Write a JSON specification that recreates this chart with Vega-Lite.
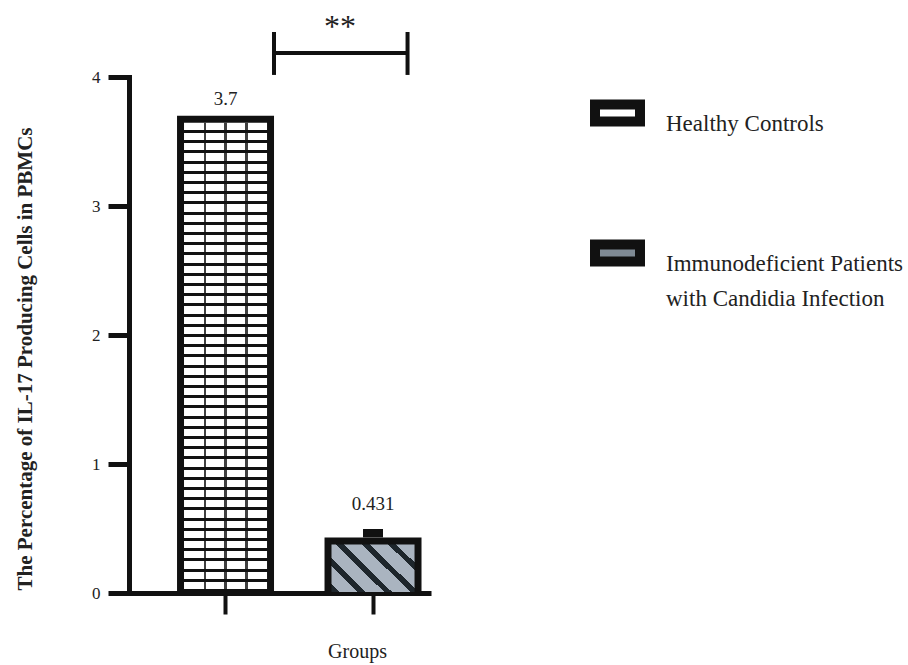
{
  "$schema": "https://vega.github.io/schema/vega-lite/v6.json",
  "width": 302,
  "height": 516,
  "autosize": {"type": "none"},
  "padding": {"left": 129, "top": 77, "right": 477, "bottom": 72},
  "background": "white",
  "config": {
    "view": {"stroke": null},
    "font": "Liberation Serif",
    "axis": {"labelFont": "Liberation Serif", "titleFont": "Liberation Serif", "labelColor": "#222", "titleColor": "#222"},
    "text": {"font": "Liberation Serif", "color": "#222"},
    "style": {"guide-label": {"lineHeight": 35}}
  },
  "datasets": {
    "bars": [
      {"group": "Healthy Controls", "value": 3.7, "upper": 3.7},
      {"group": "Immunodeficient Patients with Candidia Infection", "value": 0.431, "upper": 0.496}
    ],
    "sig": [
      {"from": "Healthy Controls", "to": "Immunodeficient Patients with Candidia Infection", "level": 4.186, "low": 4.016, "high": 4.349, "mark": "**"}
    ]
  },
  "layer": [
    {
      "data": {"name": "bars"},
      "mark": {"type": "bar", "stroke": "#111", "width": {"band": 0.5}, "yOffset": 12, "y2Offset": -12},
      "encoding": {
        "x": {"field": "group", "type": "nominal"},
        "y": {"field": "value", "type": "quantitative", "scale": {"domain": [0, 4], "nice": false}, "stack": null},
        "y2": {"datum": 0},
        "fill": {
          "field": "group", "type": "nominal",
          "scale": {"range": ["#ffffff", "#7f8a94"]},
          "legend": {
            "orient": "none", "legendX": 461, "legendY": 8.5, "title": null, "padding": 0,
            "symbolType": "M-1,-0.378H1V0.378H-1Z", "symbolSize": 2025, "symbolStrokeWidth": 10, "symbolStrokeColor": "#111",
            "labelFont": "Liberation Serif", "labelFontSize": 23, "labelColor": "#222", "labelOffset": 21, "labelLimit": 400,
            "rowPadding": 81, "labelBaseline": "top",
            "labelExpr": "datum.label === 'Immunodeficient Patients with Candidia Infection' ? ['Immunodeficient Patients', 'with Candidia Infection'] : datum.label"
          }
        }
      }
    },
    {
      "data": {"name": "bars"},
      "mark": {"type": "bar", "fill": "#111", "strokeWidth": 0},
      "encoding": {
        "x": {
          "field": "group", "type": "nominal",
          "scale": {"paddingInner": 0.3424, "paddingOuter": 0.195, "align": 0.835, "round": false},
          "axis": {"title": "Groups", "labels": false, "tickSize": 21, "tickWidth": 4, "tickColor": "#111", "domainWidth": 5, "domainColor": "#111", "titleFontSize": 20, "titleFontWeight": "normal", "titleX": 228, "titleY": 64, "titleBaseline": "alphabetic", "titleAlign": "center"}
        },
        "y": {
          "field": "value", "type": "quantitative",
          "scale": {"domain": [0, 4], "nice": false},
          "axis": {"values": [0, 1, 2, 3, 4], "format": "d", "title": "The Percentage of IL-17 Producing Cells in PBMCs", "titleFontSize": 21, "titleFontWeight": "bold", "titleX": -98, "titleY": 281.5, "titleAngle": -90, "titleAlign": "center", "titleBaseline": "alphabetic", "grid": false, "domainWidth": 5, "domainColor": "#111", "domainCap": "square", "tickWidth": 5, "tickColor": "#111", "tickSize": 21, "labelFontSize": 17, "labelPadding": 8, "labelColor": "#222"}
        }
      }
    },
    {
      "data": {"name": "bars"},
      "transform": [{"filter": "datum.group === 'Healthy Controls'"}],
      "mark": {"type": "bar", "width": {"band": 0.856}, "yOffset": 7, "y2Offset": -1, "fill": {"gradient": "linear", "x1": 0, "y1": 0, "x2": 0, "y2": 1, "stops": [
        {"offset": 0, "color": "#fff"}, {"offset": 0.0154, "color": "#fff"}, {"offset": 0.0154, "color": "#111"}, {"offset": 0.0217, "color": "#111"},
        {"offset": 0.0217, "color": "#fff"}, {"offset": 0.0372, "color": "#fff"}, {"offset": 0.0372, "color": "#111"}, {"offset": 0.0435, "color": "#111"},
        {"offset": 0.0435, "color": "#fff"}, {"offset": 0.0589, "color": "#fff"}, {"offset": 0.0589, "color": "#111"}, {"offset": 0.0652, "color": "#111"},
        {"offset": 0.0652, "color": "#fff"}, {"offset": 0.0807, "color": "#fff"}, {"offset": 0.0807, "color": "#111"}, {"offset": 0.087, "color": "#111"},
        {"offset": 0.087, "color": "#fff"}, {"offset": 0.1024, "color": "#fff"}, {"offset": 0.1024, "color": "#111"}, {"offset": 0.1087, "color": "#111"},
        {"offset": 0.1087, "color": "#fff"}, {"offset": 0.1241, "color": "#fff"}, {"offset": 0.1241, "color": "#111"}, {"offset": 0.1304, "color": "#111"},
        {"offset": 0.1304, "color": "#fff"}, {"offset": 0.1459, "color": "#fff"}, {"offset": 0.1459, "color": "#111"}, {"offset": 0.1522, "color": "#111"},
        {"offset": 0.1522, "color": "#fff"}, {"offset": 0.1676, "color": "#fff"}, {"offset": 0.1676, "color": "#111"}, {"offset": 0.1739, "color": "#111"},
        {"offset": 0.1739, "color": "#fff"}, {"offset": 0.1893, "color": "#fff"}, {"offset": 0.1893, "color": "#111"}, {"offset": 0.1957, "color": "#111"},
        {"offset": 0.1957, "color": "#fff"}, {"offset": 0.2111, "color": "#fff"}, {"offset": 0.2111, "color": "#111"}, {"offset": 0.2174, "color": "#111"},
        {"offset": 0.2174, "color": "#fff"}, {"offset": 0.2328, "color": "#fff"}, {"offset": 0.2328, "color": "#111"}, {"offset": 0.2391, "color": "#111"},
        {"offset": 0.2391, "color": "#fff"}, {"offset": 0.2546, "color": "#fff"}, {"offset": 0.2546, "color": "#111"}, {"offset": 0.2609, "color": "#111"},
        {"offset": 0.2609, "color": "#fff"}, {"offset": 0.2763, "color": "#fff"}, {"offset": 0.2763, "color": "#111"}, {"offset": 0.2826, "color": "#111"},
        {"offset": 0.2826, "color": "#fff"}, {"offset": 0.298, "color": "#fff"}, {"offset": 0.298, "color": "#111"}, {"offset": 0.3043, "color": "#111"},
        {"offset": 0.3043, "color": "#fff"}, {"offset": 0.3198, "color": "#fff"}, {"offset": 0.3198, "color": "#111"}, {"offset": 0.3261, "color": "#111"},
        {"offset": 0.3261, "color": "#fff"}, {"offset": 0.3415, "color": "#fff"}, {"offset": 0.3415, "color": "#111"}, {"offset": 0.3478, "color": "#111"},
        {"offset": 0.3478, "color": "#fff"}, {"offset": 0.3633, "color": "#fff"}, {"offset": 0.3633, "color": "#111"}, {"offset": 0.3696, "color": "#111"},
        {"offset": 0.3696, "color": "#fff"}, {"offset": 0.385, "color": "#fff"}, {"offset": 0.385, "color": "#111"}, {"offset": 0.3913, "color": "#111"},
        {"offset": 0.3913, "color": "#fff"}, {"offset": 0.4067, "color": "#fff"}, {"offset": 0.4067, "color": "#111"}, {"offset": 0.413, "color": "#111"},
        {"offset": 0.413, "color": "#fff"}, {"offset": 0.4285, "color": "#fff"}, {"offset": 0.4285, "color": "#111"}, {"offset": 0.4348, "color": "#111"},
        {"offset": 0.4348, "color": "#fff"}, {"offset": 0.4502, "color": "#fff"}, {"offset": 0.4502, "color": "#111"}, {"offset": 0.4565, "color": "#111"},
        {"offset": 0.4565, "color": "#fff"}, {"offset": 0.472, "color": "#fff"}, {"offset": 0.472, "color": "#111"}, {"offset": 0.4783, "color": "#111"},
        {"offset": 0.4783, "color": "#fff"}, {"offset": 0.4937, "color": "#fff"}, {"offset": 0.4937, "color": "#111"}, {"offset": 0.5, "color": "#111"},
        {"offset": 0.5, "color": "#fff"}, {"offset": 0.5154, "color": "#fff"}, {"offset": 0.5154, "color": "#111"}, {"offset": 0.5217, "color": "#111"},
        {"offset": 0.5217, "color": "#fff"}, {"offset": 0.5372, "color": "#fff"}, {"offset": 0.5372, "color": "#111"}, {"offset": 0.5435, "color": "#111"},
        {"offset": 0.5435, "color": "#fff"}, {"offset": 0.5589, "color": "#fff"}, {"offset": 0.5589, "color": "#111"}, {"offset": 0.5652, "color": "#111"},
        {"offset": 0.5652, "color": "#fff"}, {"offset": 0.5807, "color": "#fff"}, {"offset": 0.5807, "color": "#111"}, {"offset": 0.587, "color": "#111"},
        {"offset": 0.587, "color": "#fff"}, {"offset": 0.6024, "color": "#fff"}, {"offset": 0.6024, "color": "#111"}, {"offset": 0.6087, "color": "#111"},
        {"offset": 0.6087, "color": "#fff"}, {"offset": 0.6241, "color": "#fff"}, {"offset": 0.6241, "color": "#111"}, {"offset": 0.6304, "color": "#111"},
        {"offset": 0.6304, "color": "#fff"}, {"offset": 0.6459, "color": "#fff"}, {"offset": 0.6459, "color": "#111"}, {"offset": 0.6522, "color": "#111"},
        {"offset": 0.6522, "color": "#fff"}, {"offset": 0.6676, "color": "#fff"}, {"offset": 0.6676, "color": "#111"}, {"offset": 0.6739, "color": "#111"},
        {"offset": 0.6739, "color": "#fff"}, {"offset": 0.6893, "color": "#fff"}, {"offset": 0.6893, "color": "#111"}, {"offset": 0.6957, "color": "#111"},
        {"offset": 0.6957, "color": "#fff"}, {"offset": 0.7111, "color": "#fff"}, {"offset": 0.7111, "color": "#111"}, {"offset": 0.7174, "color": "#111"},
        {"offset": 0.7174, "color": "#fff"}, {"offset": 0.7328, "color": "#fff"}, {"offset": 0.7328, "color": "#111"}, {"offset": 0.7391, "color": "#111"},
        {"offset": 0.7391, "color": "#fff"}, {"offset": 0.7546, "color": "#fff"}, {"offset": 0.7546, "color": "#111"}, {"offset": 0.7609, "color": "#111"},
        {"offset": 0.7609, "color": "#fff"}, {"offset": 0.7763, "color": "#fff"}, {"offset": 0.7763, "color": "#111"}, {"offset": 0.7826, "color": "#111"},
        {"offset": 0.7826, "color": "#fff"}, {"offset": 0.798, "color": "#fff"}, {"offset": 0.798, "color": "#111"}, {"offset": 0.8043, "color": "#111"},
        {"offset": 0.8043, "color": "#fff"}, {"offset": 0.8198, "color": "#fff"}, {"offset": 0.8198, "color": "#111"}, {"offset": 0.8261, "color": "#111"},
        {"offset": 0.8261, "color": "#fff"}, {"offset": 0.8415, "color": "#fff"}, {"offset": 0.8415, "color": "#111"}, {"offset": 0.8478, "color": "#111"},
        {"offset": 0.8478, "color": "#fff"}, {"offset": 0.8633, "color": "#fff"}, {"offset": 0.8633, "color": "#111"}, {"offset": 0.8696, "color": "#111"},
        {"offset": 0.8696, "color": "#fff"}, {"offset": 0.885, "color": "#fff"}, {"offset": 0.885, "color": "#111"}, {"offset": 0.8913, "color": "#111"},
        {"offset": 0.8913, "color": "#fff"}, {"offset": 0.9067, "color": "#fff"}, {"offset": 0.9067, "color": "#111"}, {"offset": 0.913, "color": "#111"},
        {"offset": 0.913, "color": "#fff"}, {"offset": 0.9285, "color": "#fff"}, {"offset": 0.9285, "color": "#111"}, {"offset": 0.9348, "color": "#111"},
        {"offset": 0.9348, "color": "#fff"}, {"offset": 0.9502, "color": "#fff"}, {"offset": 0.9502, "color": "#111"}, {"offset": 0.9565, "color": "#111"},
        {"offset": 0.9565, "color": "#fff"}, {"offset": 0.972, "color": "#fff"}, {"offset": 0.972, "color": "#111"}, {"offset": 0.9783, "color": "#111"},
        {"offset": 0.9783, "color": "#fff"}, {"offset": 0.9937, "color": "#fff"}, {"offset": 0.9937, "color": "#111"}, {"offset": 1, "color": "#111"}
      ]}},
      "encoding": {
        "x": {"field": "group", "type": "nominal"},
        "y": {"field": "value", "type": "quantitative", "scale": {"domain": [0, 4], "nice": false}, "stack": null},
        "y2": {"datum": 0}
      }
    },
    {
      "data": {"name": "bars"},
      "transform": [{"filter": "datum.group === 'Healthy Controls'"}],
      "mark": {"type": "bar", "width": {"band": 0.856}, "yOffset": 7, "y2Offset": -1, "fill": {"gradient": "linear", "x1": 0, "y1": 0, "x2": 1, "y2": 0, "stops": [
        {"offset": 0, "color": "rgba(0,0,0,0)"}, {"offset": 0.235, "color": "rgba(0,0,0,0)"}, {"offset": 0.235, "color": "rgba(17,17,17,0.8)"}, {"offset": 0.265, "color": "rgba(17,17,17,0.8)"}, {"offset": 0.265, "color": "rgba(0,0,0,0)"},
        {"offset": 0.485, "color": "rgba(0,0,0,0)"}, {"offset": 0.485, "color": "rgba(17,17,17,0.8)"}, {"offset": 0.515, "color": "rgba(17,17,17,0.8)"}, {"offset": 0.515, "color": "rgba(0,0,0,0)"},
        {"offset": 0.735, "color": "rgba(0,0,0,0)"}, {"offset": 0.735, "color": "rgba(17,17,17,0.8)"}, {"offset": 0.765, "color": "rgba(17,17,17,0.8)"}, {"offset": 0.765, "color": "rgba(0,0,0,0)"},
        {"offset": 1, "color": "rgba(0,0,0,0)"}
      ]}},
      "encoding": {
        "x": {"field": "group", "type": "nominal"},
        "y": {"field": "value", "type": "quantitative", "scale": {"domain": [0, 4], "nice": false}, "stack": null},
        "y2": {"datum": 0}
      }
    },
    {
      "data": {"name": "bars"},
      "transform": [{"filter": "datum.group !== 'Healthy Controls'"}],
      "mark": {"type": "bar", "width": {"band": 0.856}, "yOffset": 7, "y2Offset": -1, "fill": {"gradient": "linear", "x1": 0, "y1": 1, "x2": 1.181, "y2": 0.309, "stops": [
        {"offset": 0, "color": "#1e262c"}, {"offset": 0.06, "color": "#1e262c"}, {"offset": 0.06, "color": "#aab4c0"}, {"offset": 0.2, "color": "#aab4c0"},
        {"offset": 0.2, "color": "#1e262c"}, {"offset": 0.26, "color": "#1e262c"}, {"offset": 0.26, "color": "#aab4c0"}, {"offset": 0.4, "color": "#aab4c0"},
        {"offset": 0.4, "color": "#1e262c"}, {"offset": 0.46, "color": "#1e262c"}, {"offset": 0.46, "color": "#aab4c0"}, {"offset": 0.6, "color": "#aab4c0"},
        {"offset": 0.6, "color": "#1e262c"}, {"offset": 0.66, "color": "#1e262c"}, {"offset": 0.66, "color": "#aab4c0"}, {"offset": 0.8, "color": "#aab4c0"},
        {"offset": 0.8, "color": "#1e262c"}, {"offset": 0.86, "color": "#1e262c"}, {"offset": 0.86, "color": "#aab4c0"}, {"offset": 1, "color": "#aab4c0"}
      ]}},
      "encoding": {
        "x": {"field": "group", "type": "nominal"},
        "y": {"field": "value", "type": "quantitative", "scale": {"domain": [0, 4], "nice": false}, "stack": null},
        "y2": {"datum": 0}
      }
    },
    {
      "data": {"name": "bars"},
      "transform": [{"filter": "datum.upper > datum.value"}],
      "mark": {"type": "bar", "width": 20, "fill": "#111"},
      "encoding": {
        "x": {"field": "group", "type": "nominal"},
        "y": {"field": "upper", "type": "quantitative", "scale": {"domain": [0, 4], "nice": false}},
        "y2": {"field": "value"}
      }
    },
    {
      "data": {"name": "bars"},
      "transform": [{"filter": "datum.group === 'Healthy Controls'"}],
      "mark": {"type": "text", "fontSize": 19, "baseline": "alphabetic", "dy": -11, "color": "#222"},
      "encoding": {
        "x": {"field": "group", "type": "nominal"},
        "y": {"field": "upper", "type": "quantitative", "scale": {"domain": [0, 4], "nice": false}},
        "text": {"field": "value", "type": "quantitative"}
      }
    },
    {
      "data": {"name": "bars"},
      "transform": [{"filter": "datum.group !== 'Healthy Controls'"}],
      "mark": {"type": "text", "fontSize": 19, "baseline": "alphabetic", "dy": -19, "color": "#222"},
      "encoding": {
        "x": {"field": "group", "type": "nominal"},
        "y": {"field": "upper", "type": "quantitative", "scale": {"domain": [0, 4], "nice": false}},
        "text": {"field": "value", "type": "quantitative", "format": ".3"}
      }
    },
    {
      "data": {"name": "sig"},
      "mark": {"type": "rule", "strokeWidth": 4, "color": "#111"},
      "encoding": {
        "x": {"field": "from", "type": "nominal", "bandPosition": 1},
        "x2": {"field": "to", "bandPosition": 0.856},
        "y": {"field": "level", "type": "quantitative", "scale": {"domain": [0, 4], "nice": false}}
      }
    },
    {
      "data": {"name": "sig"},
      "mark": {"type": "rule", "strokeWidth": 4, "color": "#111"},
      "encoding": {
        "x": {"field": "from", "type": "nominal", "bandPosition": 1},
        "y": {"field": "low", "type": "quantitative", "scale": {"domain": [0, 4], "nice": false}},
        "y2": {"field": "high"}
      }
    },
    {
      "data": {"name": "sig"},
      "mark": {"type": "rule", "strokeWidth": 4, "color": "#111"},
      "encoding": {
        "x": {"field": "to", "type": "nominal", "bandPosition": 0.856},
        "y": {"field": "low", "type": "quantitative", "scale": {"domain": [0, 4], "nice": false}},
        "y2": {"field": "high"}
      }
    },
    {
      "data": {"name": "sig"},
      "mark": {"type": "text", "fontSize": 32, "baseline": "alphabetic", "dy": -16, "color": "#222"},
      "encoding": {
        "x": {"field": "to", "type": "nominal", "bandPosition": 0.16},
        "y": {"field": "level", "type": "quantitative", "scale": {"domain": [0, 4], "nice": false}},
        "text": {"field": "mark"}
      }
    }
  ]
}
